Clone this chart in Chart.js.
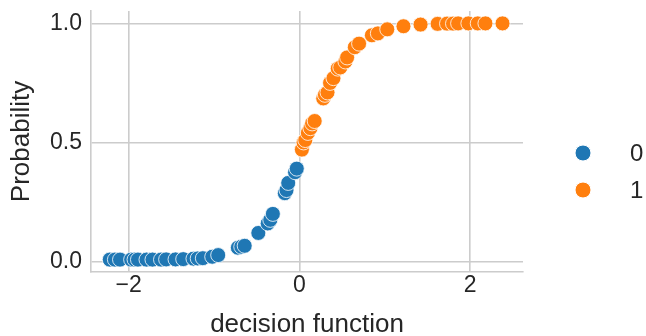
<!DOCTYPE html>
<html>
<head>
<meta charset="utf-8">
<script src="https://cdn.jsdelivr.net/npm/chart.js@4/dist/chart.umd.min.js"></script>
<style>
  html, body { margin: 0; padding: 0; background: #ffffff; }
  #wrap { width: 646px; height: 336px; }
</style>
</head>
<body>
<div id="wrap"><canvas id="c" width="646" height="336"></canvas></div>
<script>
// ---- data ----
const seriesNames = ['0', '1'];
const blueX = [-2.22, -2.16, -2.10, -1.97, -1.93, -1.89, -1.79, -1.72, -1.62, -1.56, -1.45, -1.36, -1.24, -1.19, -1.13, -1.02, -0.95, -0.72, -0.68, -0.64, -0.48, -0.37, -0.34, -0.31, -0.17, -0.15, -0.13, -0.05, -0.03];
const blueY = [0.008, 0.008, 0.008, 0.008, 0.008, 0.008, 0.008, 0.008, 0.008, 0.009, 0.009, 0.010, 0.012, 0.013, 0.014, 0.020, 0.027, 0.058, 0.062, 0.066, 0.120, 0.160, 0.175, 0.200, 0.287, 0.300, 0.330, 0.375, 0.390];
const orangeX = [0.03, 0.05, 0.07, 0.10, 0.13, 0.15, 0.18, 0.28, 0.30, 0.33, 0.36, 0.40, 0.45, 0.48, 0.54, 0.56, 0.65, 0.70, 0.85, 0.92, 1.03, 1.22, 1.42, 1.62, 1.73, 1.80, 1.86, 1.98, 2.09, 2.18, 2.38];
const orangeY = [0.47, 0.50, 0.51, 0.54, 0.56, 0.58, 0.59, 0.685, 0.70, 0.71, 0.75, 0.77, 0.81, 0.815, 0.84, 0.857, 0.90, 0.915, 0.95, 0.958, 0.975, 0.988, 0.995, 0.998, 0.999, 0.999, 1.0, 1.0, 1.0, 1.0, 1.0];
const xTicks = [-2, 0, 2];
const xTickLabels = ['\u22122', '0', '2'];
const yTicks = [0, 0.5, 1.0];
const yTickLabels = ['0.0', '0.5', '1.0'];
const xTitle = 'decision function';
const yTitle = 'Probability';

const BLUE = '#1f77b4';
const ORANGE = '#ff7f0e';
const TEXT = '#262626';
const GRID = '#cccccc';
const FONT = "'Liberation Sans', Arial, sans-serif";

const toPts = (xs, ys) => xs.map((x, i) => ({ x: x, y: ys[i] }));

const legendPlugin = {
  id: 'sideLegend',
  afterDraw(chart) {
    const ctx = chart.ctx;
    const ca = chart.chartArea;
    const cx = ca.right + 60;
    const y0 = 153, dy = 37;
    ctx.save();
    chart.data.datasets.forEach((ds, i) => {
      const y = y0 + i * dy;
      ctx.beginPath();
      ctx.arc(cx, y, 8, 0, Math.PI * 2);
      ctx.fillStyle = ds.backgroundColor;
      ctx.fill();
      ctx.lineWidth = 1;
      ctx.strokeStyle = '#ffffff';
      ctx.stroke();
      ctx.fillStyle = TEXT;
      ctx.font = '24px ' + FONT;
      ctx.textBaseline = 'middle';
      ctx.textAlign = 'left';
      ctx.fillText(ds.label, cx + 47, y + 1);
    });
    ctx.restore();
  }
};

const noPad = s => { s.paddingTop = 0; s.paddingBottom = 0; s.paddingLeft = 0; s.paddingRight = 0; };

new Chart(document.getElementById('c'), {
  type: 'scatter',
  data: {
    datasets: [
      { label: seriesNames[0], data: toPts(blueX, blueY), backgroundColor: BLUE, borderColor: '#ffffff', borderWidth: 0.8, pointRadius: 7.5, order: 1 },
      { label: seriesNames[1], data: toPts(orangeX, orangeY), backgroundColor: ORANGE, borderColor: '#ffffff', borderWidth: 0.8, pointRadius: 7.5, order: 0 }
    ]
  },
  options: {
    responsive: false,
    animation: false,
    devicePixelRatio: 1,
    layout: { padding: { left: 0, right: 123, top: 11, bottom: 0 } },
    plugins: { legend: { display: false }, tooltip: { enabled: false } },
    scales: {
      x: {
        type: 'linear', min: -2.44, max: 2.62,
        afterBuildTicks: s => { s.ticks = xTicks.map(v => ({ value: v })); },
        afterFit: s => { s.height = 64; noPad(s); },
        ticks: { callback: (v, i) => xTickLabels[i], color: TEXT, font: { family: FONT, size: 23 }, padding: 0, maxRotation: 0, autoSkip: false },
        grid: { color: GRID, lineWidth: 1.6, drawTicks: false },
        border: { color: GRID, width: 1.6 },
        title: { display: true, text: xTitle, color: TEXT, font: { family: FONT, size: 26, lineHeight: 0.85 }, padding: { top: 0, bottom: 0 } }
      },
      y: {
        type: 'linear', min: -0.044, max: 1.052,
        afterBuildTicks: s => { s.ticks = yTicks.map(v => ({ value: v })); },
        afterFit: s => { s.width = 91; noPad(s); },
        ticks: { callback: (v, i) => yTickLabels[i], color: TEXT, font: { family: FONT, size: 23 }, padding: 9, autoSkip: false },
        grid: { color: GRID, lineWidth: 1.6, drawTicks: false },
        border: { color: GRID, width: 1.6 },
        title: { display: true, text: yTitle, color: TEXT, font: { family: FONT, size: 26 }, padding: { top: 6, bottom: 0 } }
      }
    }
  },
  plugins: [legendPlugin]
});
</script>
</body>
</html>
